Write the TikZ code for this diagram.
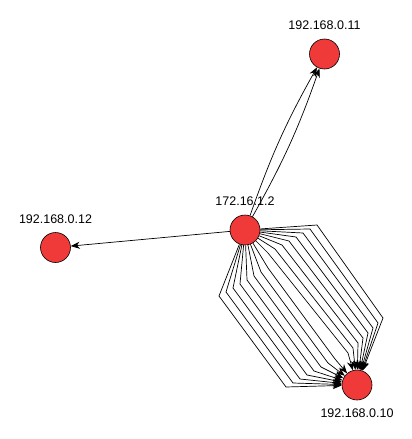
\documentclass[tikz,border=0pt]{standalone}
\usepackage{fontspec}
\setmainfont{Liberation Sans}
\usetikzlibrary{arrows.meta, positioning}

\begin{document}
\begin{tikzpicture}[
    x=1pt, y=-1pt,
    host/.style={circle, draw=black, line width=0.6pt, fill={rgb,255:red,240;green,58;blue,58},
      minimum size=30pt, inner sep=0pt},
    lbl/.style={inner sep=0pt, font=\fontsize{12.5}{14}\selectfont, label distance=8.5pt},
    edge/.style={line width=0.7pt, -{Stealth[length=9pt, width=7pt]}}
  ]
  \useasboundingbox (0,0) rectangle (412,439);

  \node[host, label={[lbl]above:172.16.1.2}] (hub) at (245,230) {};
  \node[host, label={[lbl]above:192.168.0.11}] (n11) at (324.5,54) {};
  \node[host, label={[lbl]above:192.168.0.12}] (n12) at (55.5,247.5) {};
  \node[host, label={[lbl]below:192.168.0.10}] (n10) at (357,385) {};

  \draw[edge] (hub) -- (n12);
  \draw[edge] (hub) to[bend left=5] (n11);
  \draw[edge] (hub) to[bend right=5] (n11);

  % bundled flows to 192.168.0.10
  \foreach \k in {0,...,7} {
    \coordinate (la\k) at ({219+7*\k},{296-4*\k});
    \coordinate (lb\k) at ({286+7*\k},{387-4*\k});
    \coordinate (ra\k) at ({317-7*\k},{225+4*\k});
    \coordinate (rb\k) at ({383-5*\k},{318+5*\k});
    \draw[edge] (hub) -- (la\k) -- (lb\k) -- (n10);
    \draw[edge] (hub) -- (ra\k) -- (rb\k) -- (n10);
  }

\end{tikzpicture}
\end{document}
